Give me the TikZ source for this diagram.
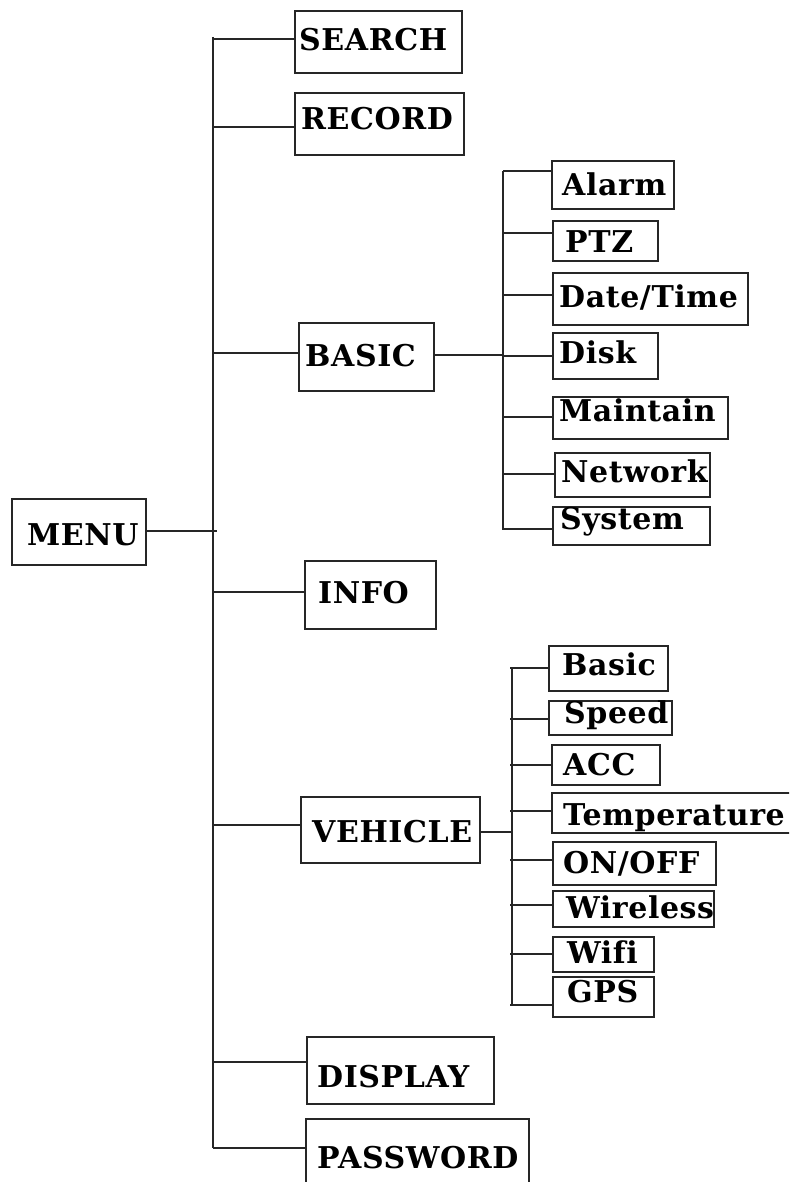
\documentclass[tikz,border=0pt]{standalone}
\usepackage{fontspec}
\newfontfamily\lblfont[Ligatures=NoCommon,LetterSpace=2]{DejaVu Serif}
\begin{document}
\begin{tikzpicture}[x=1pt,y=-1pt,
  box/.style={draw=black!85, line width=1.6pt, inner sep=0pt, outer sep=0pt},
  lbl/.style={inner sep=0pt, anchor=base west, font=\lblfont\bfseries\fontsize{30}{31}\selectfont},
  wire/.style={draw=black!85, line width=1.6pt}]
\useasboundingbox (0,0) rectangle (789,1182);
\fill[white] (0,0) rectangle (789,1182);
\clip (0,0) rectangle (789,1182);
% box macro: name, x1, y1, x2, y2
\newcommand\bxnode[5]{\node[box, minimum width={#4-#2}, minimum height={#5-#3}] (#1) at ({(#2+#4)/2},{(#3+#5)/2}) {};}
% top level boxes
\bxnode{MENU}{12}{499}{146}{565}
\bxnode{SEARCH}{295}{11}{462}{73}
\bxnode{RECORD}{295}{93}{464}{155}
\bxnode{BASIC}{299}{323}{434}{391}
\bxnode{INFO}{305}{561}{436}{629}
\bxnode{VEHICLE}{301}{797}{480}{863}
\bxnode{DISPLAY}{307}{1037}{494}{1104}
\bxnode{PASSWORD}{306}{1119}{529}{1200}
% BASIC sub boxes
\bxnode{Alarm}{552}{161}{674}{209}
\bxnode{PTZ}{553}{221}{658}{261}
\bxnode{DateTime}{553}{273}{748}{325}
\bxnode{Disk}{553}{333}{658}{379}
\bxnode{Maintain}{553}{397}{728}{439}
\bxnode{Network}{555}{453}{710}{497}
\bxnode{System}{553}{507}{710}{545}
% VEHICLE sub boxes
\bxnode{vBasic}{549}{646}{668}{691}
\bxnode{Speed}{549}{701}{672}{735}
\bxnode{ACC}{552}{745}{660}{785}
\bxnode{Temperature}{552}{793}{810}{833}
\bxnode{ONOFF}{553}{842}{716}{885}
\bxnode{Wireless}{553}{891}{714}{927}
\bxnode{Wifi}{553}{937}{654}{972}
\bxnode{GPS}{553}{977}{654}{1017}
% labels
\node[lbl] (tMENU) at (27,545) {MENU};
\node[lbl] (tSEARCH) at (299,51) {SEARCH};
\node[lbl] (tRECORD) at (301,130) {RECORD};
\node[lbl] (tBASIC) at (305,366) {BASIC};
\node[lbl] (tINFO) at (318,603) {INFO};
\node[lbl] (tVEHICLE) at (312,842) {VEHICLE};
\node[lbl] (tDISPLAY) at (317,1087) {DISPLAY};
\node[lbl] (tPASSWORD) at (317,1168) {PASSWORD};
\node[lbl] (tAlarm) at (562,196) {Alarm};
\node[lbl] (tPTZ) at (565,252) {PTZ};
\node[lbl] (tDateTime) at (559,307) {Date/Time};
\node[lbl] (tDisk) at (559,363) {Disk};
\node[lbl] (tMaintain) at (559,421) {Maintain};
\node[lbl] (tNetwork) at (561,482) {Network};
\node[lbl] (tSystem) at (560,529) {System};
\node[lbl] (tvBasic) at (562,675) {Basic};
\node[lbl] (tSpeed) at (564,723) {Speed};
\node[lbl] (tACC) at (563,775) {ACC};
\node[lbl] (tTemperature) at (563,825) {Temperature};
\node[lbl] (tONOFF) at (563,873) {ON/OFF};
\node[lbl] (tWireless) at (566,918) {Wireless};
\node[lbl] (tWifi) at (567,963) {Wifi};
\node[lbl] (tGPS) at (567,1002) {GPS};
% main trunk
\coordinate (mtop) at (213,37);
\coordinate (mbot) at (213,1148);
\draw[wire] (mtop) -- (mbot);
\coordinate (mjoin) at (217,531);
\draw[wire] (MENU.east |- mjoin) -- (mjoin);
\foreach \n/\yy in {SEARCH/39, RECORD/127, BASIC/353, INFO/592, VEHICLE/825, DISPLAY/1062, PASSWORD/1148}{
  \coordinate (c\n) at (213,\yy);
  \draw[wire] (c\n) -- (c\n -| \n.west);
}
% BASIC sub trunk
\coordinate (btop) at (503,171);
\coordinate (bbot) at (503,530);
\draw[wire] (btop) -- (bbot);
\coordinate (bjoin) at (503,355);
\draw[wire] (BASIC.east |- bjoin) -- (bjoin);
\foreach \n/\yy in {Alarm/171, PTZ/233, DateTime/295, Disk/356, Maintain/417, Network/474, System/529}{
  \coordinate (b\n) at (503,\yy);
  \draw[wire] (b\n) -- (b\n -| \n.west);
}
% VEHICLE sub trunk
\coordinate (vtop) at (512,668);
\coordinate (vbot) at (512,1005);
\draw[wire] (vtop) -- (vbot);
\coordinate (vjoin) at (513,832);
\draw[wire] (VEHICLE.east |- vjoin) -- (vjoin);
\foreach \n/\yy in {vBasic/668, Speed/719, ACC/765, Temperature/811, ONOFF/860, Wireless/905, Wifi/954, GPS/1005}{
  \coordinate (v\n) at (510,\yy);
  \draw[wire] (v\n) -- (v\n -| \n.west);
}
\end{tikzpicture}
\end{document}
